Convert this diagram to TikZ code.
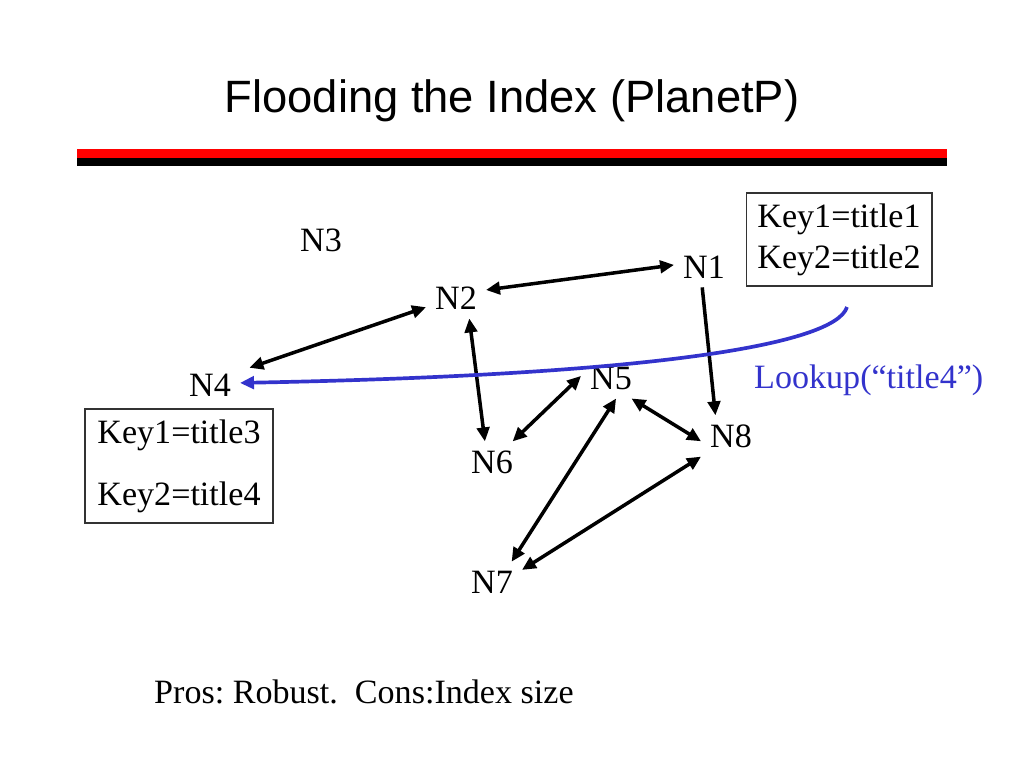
\documentclass[tikz,border=0pt]{standalone}
\usepackage{fontspec}
\setmainfont{Liberation Serif}
\newfontfamily\titlefont{Liberation Sans}
\usetikzlibrary{arrows.meta}
\definecolor{lookblue}{RGB}{51,51,204}

\tikzset{
  body/.style={font=\fontsize{19.4}{23.2}\selectfont},
  peer/.style={body, inner xsep=5pt, inner ysep=5pt},
  keybox/.style={body, draw=black!80, line width=0.6pt, align=left},
  link/.style={{Triangle[length=0.28cm,width=0.25cm]}-{Triangle[length=0.28cm,width=0.25cm]}, line width=2pt},
  oneway/.style={-{Triangle[length=0.28cm,width=0.25cm]}, line width=2pt},
  lookup/.style={-{Triangle[length=0.28cm,width=0.25cm]}, lookblue, line width=2.1pt}
}

\begin{document}
\begin{tikzpicture}[x=0.02cm, y=-0.02cm]
  \fill[white] (0,0) rectangle (1024,768);

  % Title and bar
  \node[anchor=base, font=\titlefont\fontsize{25.8}{31}\selectfont] (title) at (512,112) {Flooding the Index (PlanetP)};
  \fill[red] (77,149) rectangle (947,158);
  \fill[black] (77,158) rectangle (947,166);

  % Peers
  \node[peer] (N1) at (704,267) {N1};
  \node[peer] (N2) at (456,298) {N2};
  \node[peer] (N3) at (321,240) {N3};
  \node[peer] (N4) at (210,385) {N4};
  \node[peer] (N5) at (611,378) {N5};
  \node[peer] (N6) at (492,462) {N6};
  \node[peer] (N7) at (492,582) {N7};
  \node[peer] (N8) at (731,436) {N8};

  % Index entries
  \node[keybox, minimum width=3.72cm, minimum height=1.86cm] (idx1) at (839,239.5) {Key1=title1\\Key2=title2};
  \node[keybox, minimum width=3.76cm, minimum height=2.28cm] (idx4) at (179,466) {Key1=title3\\[0.42cm]Key2=title4};

  % Flooding links
  \draw[link] (N2.15) -- (N1.176);
  \draw[link, shorten <=2mm] (N4.25) -- (N2.197);
  \draw[link] (N2.303) -- (N6.109);
  \draw[oneway] (N1.265) -- (N8.127);
  \draw[link] (N5.176) -- (N6.45);
  \draw[link] (N5.284) -- (N7.46);
  \draw[link] (N5.315) -- (N8.190);
  \draw[link] (N8.south west) -- (N7.22);

  % Lookup
  \coordinate (lk) at (847,307);
  \draw[lookup] (lk) .. controls (835,345) and (650,375) .. (N4.4);
  \node[body, anchor=base west, text=lookblue] (query) at (748,388) {Lookup(“title4”)};

  % Summary
  \node[body, anchor=base west] (pros) at (148,703) {\frenchspacing Pros: Robust.\ \ Cons:Index size};
\end{tikzpicture}
\end{document}
